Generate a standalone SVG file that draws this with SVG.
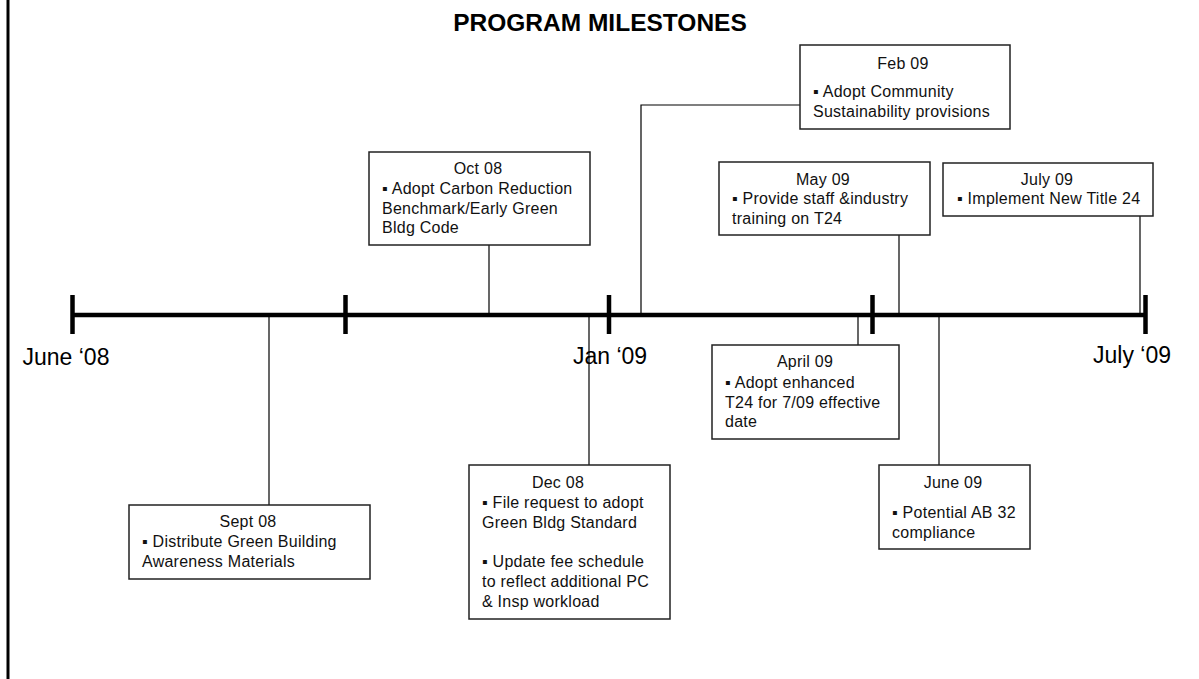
<svg xmlns="http://www.w3.org/2000/svg" width="1199" height="679" viewBox="0 0 1199 679">
  <style>
    .bg { fill: #ffffff; }
    .frame { stroke: #000; stroke-width: 3; fill: none; }
    .axis { stroke: #000; stroke-width: 4.5; fill: none; }
    .tick { stroke: #000; stroke-width: 4.5; fill: none; }
    .link { stroke: #000; stroke-width: 1.2; fill: none; }
    .box { fill: #ffffff; stroke: #222; stroke-width: 1.5; }
    .title { font-family: "Liberation Sans", Arial, sans-serif; font-weight: bold; font-size: 24.5px; fill: #000; }
    .date { font-family: "Liberation Sans", Arial, sans-serif; font-size: 23px; fill: #000; }
    .txt { font-family: "Liberation Sans", Arial, sans-serif; font-size: 16px; letter-spacing: 0.25px; fill: #111; }
    .mid { text-anchor: middle; }
  </style>

  <rect class="bg" x="0" y="0" width="1199" height="679"/>
  <line class="frame" x1="8" y1="0" x2="8" y2="679"/>

  <text class="title mid" x="600" y="31">PROGRAM MILESTONES</text>

  <!-- timeline axis -->
  <g id="timeline">
    <line class="axis" x1="72" y1="315" x2="1145" y2="315"/>
    <line class="tick" x1="72.5" y1="295" x2="72.5" y2="334"/>
    <line class="tick" x1="345.5" y1="295" x2="345.5" y2="334"/>
    <line class="tick" x1="609" y1="295" x2="609" y2="334"/>
    <line class="tick" x1="872.5" y1="295" x2="872.5" y2="334"/>
    <line class="tick" x1="1145.5" y1="295" x2="1145.5" y2="334"/>
    <text class="date" x="22.5" y="365">June ‘08</text>
    <text class="date" x="573" y="364">Jan ‘09</text>
    <text class="date" x="1093" y="363">July ‘09</text>
  </g>

  <!-- connectors from the axis to each milestone -->
  <g id="connectors">
    <line class="link" x1="269" y1="315" x2="269" y2="505"/>
    <line class="link" x1="489" y1="245" x2="489" y2="315"/>
    <line class="link" x1="589" y1="315" x2="589" y2="465"/>
    <polyline class="link" points="800,105 641,105 641,315"/>
    <line class="link" x1="858" y1="315" x2="858" y2="345"/>
    <line class="link" x1="899" y1="235" x2="899" y2="315"/>
    <line class="link" x1="939" y1="315" x2="939" y2="465"/>
    <line class="link" x1="1140" y1="216" x2="1140" y2="315"/>
  </g>

  <g id="sept08">
    <rect class="box" x="129" y="505" width="241" height="74"/>
    <text class="txt mid" x="248" y="527">Sept 08</text>
    <text class="txt" x="142" y="547">▪ Distribute Green Building</text>
    <text class="txt" x="142" y="567">Awareness Materials</text>
  </g>

  <g id="oct08">
    <rect class="box" x="369" y="152" width="221" height="93"/>
    <text class="txt mid" x="478" y="174">Oct 08</text>
    <text class="txt" x="382" y="194">▪ Adopt Carbon Reduction</text>
    <text class="txt" x="382" y="214">Benchmark/Early Green</text>
    <text class="txt" x="382" y="233">Bldg Code</text>
  </g>

  <g id="dec08">
    <rect class="box" x="469" y="465" width="201" height="154"/>
    <text class="txt mid" x="558" y="488">Dec 08</text>
    <text class="txt" x="482" y="508">▪  File request to adopt</text>
    <text class="txt" x="482" y="528">Green Bldg Standard</text>
    <text class="txt" x="482" y="567">▪ Update fee schedule</text>
    <text class="txt" x="482" y="587">to reflect additional PC</text>
    <text class="txt" x="482" y="607">&amp; Insp workload</text>
  </g>

  <g id="feb09">
    <rect class="box" x="800" y="45" width="210" height="84"/>
    <text class="txt mid" x="903" y="69">Feb 09</text>
    <text class="txt" x="813" y="97">▪ Adopt Community</text>
    <text class="txt" x="813" y="117">Sustainability provisions</text>
  </g>

  <g id="apr09">
    <rect class="box" x="712" y="345" width="187" height="94"/>
    <text class="txt mid" x="805" y="367">April 09</text>
    <text class="txt" x="725" y="388">▪ Adopt enhanced</text>
    <text class="txt" x="725" y="408">T24 for 7/09 effective</text>
    <text class="txt" x="725" y="427">date</text>
  </g>

  <g id="may09">
    <rect class="box" x="719" y="162" width="211" height="73"/>
    <text class="txt mid" x="823" y="185">May 09</text>
    <text class="txt" x="732" y="204">▪ Provide staff &amp;industry</text>
    <text class="txt" x="732" y="224">training on T24</text>
  </g>

  <g id="jun09">
    <rect class="box" x="879" y="465" width="151" height="84"/>
    <text class="txt mid" x="953" y="488">June 09</text>
    <text class="txt" x="892" y="518">▪ Potential AB 32</text>
    <text class="txt" x="892" y="538">compliance</text>
  </g>

  <g id="jul09">
    <rect class="box" x="943" y="163" width="210" height="53"/>
    <text class="txt mid" x="1047" y="185">July 09</text>
    <text class="txt" x="957" y="204">▪ Implement New Title 24</text>
  </g>
</svg>
